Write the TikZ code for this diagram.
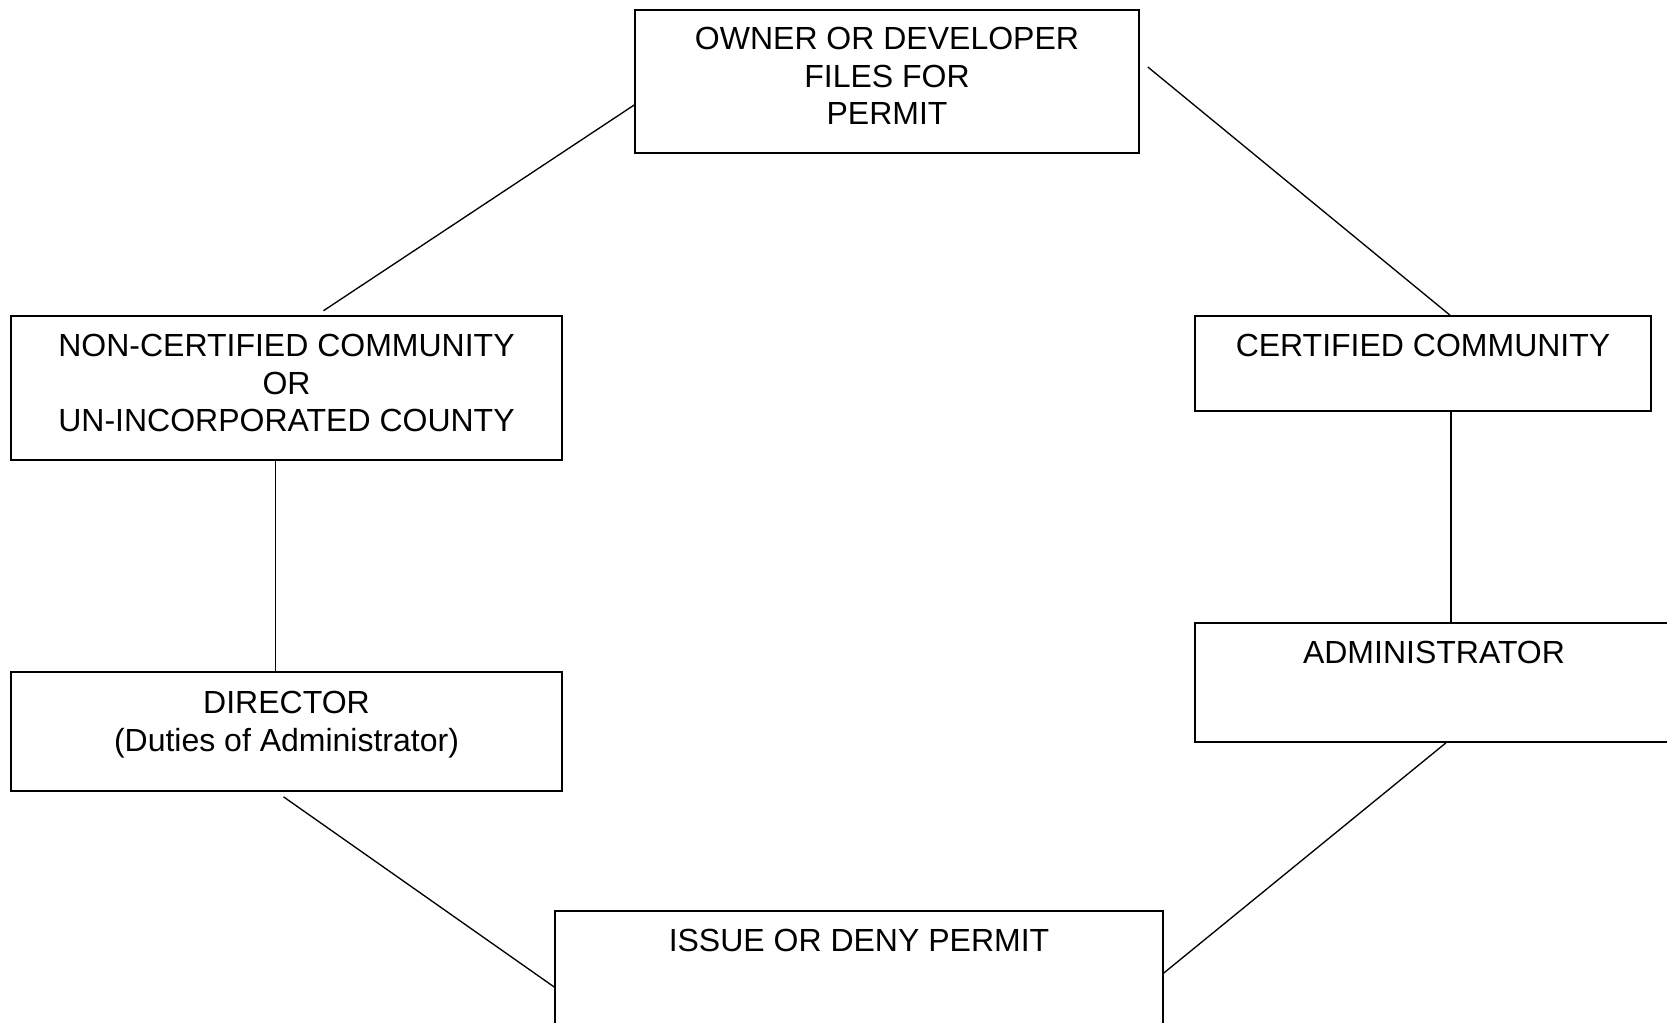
\documentclass[tikz,border=0pt]{standalone}
\usepackage{fontspec}
\setmainfont{Liberation Sans}
\usetikzlibrary{calc,fit}
\begin{document}
\begin{tikzpicture}[x=0.75pt,y=-0.75pt,
  box/.style={draw=black,line width=1.2pt,inner sep=0pt,rectangle},
  txt/.style={inner sep=0pt,anchor=north,align=center,font=\fontsize{24pt}{27.9pt}\selectfont},
  conn/.style={draw=black,line width=1pt}]
\useasboundingbox (0,0) rectangle (1667,1023);
\clip (0,0) rectangle (1667,1023);
\fill[white] (0,0) rectangle (1667,1023);
% boxes
\node[box,fit={(635,10) (1139,153)}] (owner) {};
\node[box,fit={(11,316) (562,460)}] (nc) {};
\node[box,fit={(1195,316) (1651,411)}] (cert) {};
\node[box,fit={(1195,623) (1673,742)}] (admin) {};
\node[box,fit={(11,672) (562,791)}] (dir) {};
\node[box,fit={(555,911) (1163,1030)}] (issue) {};
% texts
\node[txt] (owner-t) at ($(owner.north)+(0,18)$) {OWNER OR DEVELOPER\\FILES FOR\\PERMIT};
\node[txt] (nc-t) at ($(nc.north)+(0,19)$) {NON-CERTIFIED COMMUNITY\\OR\\UN-INCORPORATED COUNTY};
\node[txt] (cert-t) at ($(cert.north)+(0,19)$) {CERTIFIED COMMUNITY};
\node[txt] (admin-t) at ($(admin.north)+(0,19)$) {ADMINISTRATOR};
\node[txt] (dir-t) at ($(dir.north)+(0,20)$) {DIRECTOR\\(Duties of Administrator)};
\node[txt] (issue-t) at ($(issue.north)+(0,19)$) {ISSUE OR DENY PERMIT};
% connectors
\draw[conn] ($(owner.west)+(0,23.5)$) -- ($(nc.north)+(37,-4.5)$);
\draw[conn] ($(owner.east)+(8,-14.5)$) -- ($(cert.north)+(27,0)$);
\draw[conn] ($(nc.south)+(-11,0)$) -- ($(dir.north)+(-11,0)$);
\draw[conn] ($(cert.south)+(28,0)$) -- ($(admin.north)+(17,0)$);
\draw[conn] ($(dir.south)+(-3,5)$) -- ($(issue.west)+(0,16.5)$);
\draw[conn] ($(admin.south)+(12,0)$) -- ($(issue.east)+(0,2.5)$);
\end{tikzpicture}
\end{document}
